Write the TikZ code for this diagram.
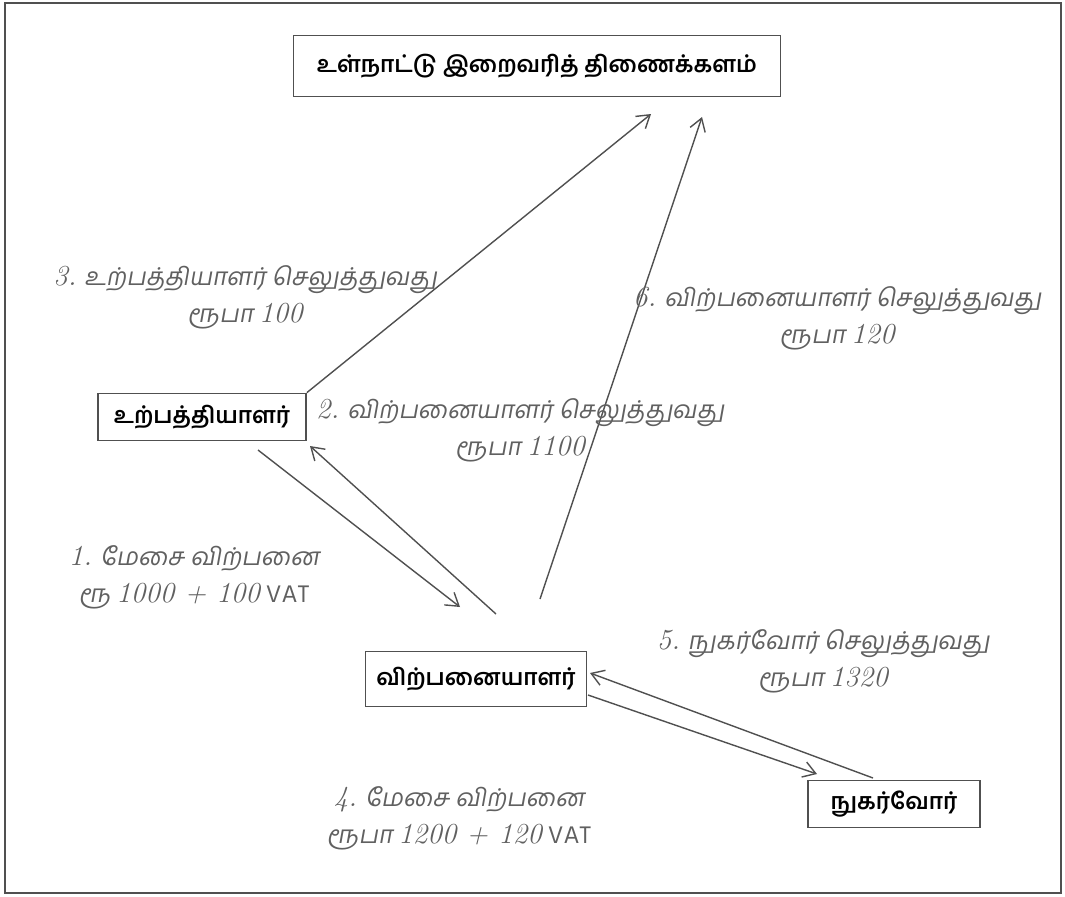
\documentclass[tikz,border=0pt]{standalone}
\usepackage{fontspec}
\usetikzlibrary{arrows.meta, positioning}
\newfontfamily\tamil[Script=Tamil]{Hind Madurai}
\newfontfamily\tamilsl[Script=Tamil,FakeSlant=0.18]{Hind Madurai}
\definecolor{inkgray}{HTML}{505050}
\definecolor{labgray}{HTML}{606060}
\newcommand{\nm}[1]{{\rmfamily\itshape\fontsize{16.5}{21}\selectfont #1}}

\begin{document}
\begin{tikzpicture}[x=0.02cm, y=-0.02cm,
  box/.style={draw=inkgray, line width=1pt, text=black,
    font=\tamil\bfseries\fontsize{13}{15}\selectfont},
  lab/.style={text=labgray, align=center,
    font=\tamilsl\fontsize{14}{21}\selectfont},
  flow/.style={draw=inkgray, line width=0.8pt,
    -{Straight Barb[length=7pt, width=9pt]}}]
  \useasboundingbox (0,0) rectangle (1065,896);
  \draw[inkgray, line width=1pt] (5,3) rectangle (1061,893);

  % boxes
  \node[box, minimum width=9.74cm, minimum height=1.22cm] (dept) at (537,66)
    {உள்நாட்டு இறைவரித் திணைக்களம்};
  \node[box, minimum width=4.16cm, minimum height=0.94cm] (prod) at (202,417)
    {உற்பத்தியாளர்};
  \node[box, minimum width=4.42cm, minimum height=1.1cm] (ret) at (476,679)
    {விற்பனையாளர்};
  \node[box, minimum width=3.44cm, minimum height=0.94cm] (cons) at (894,804)
    {நுகர்வோர்};

  % arrow ends
  \coordinate (e3) at (651,114);
  \coordinate (s6) at (540,599);
  \coordinate (e6) at (702,117);
  \coordinate (s1) at (258,450);
  \coordinate (e1) at (460,607);
  \coordinate (s2) at (496,614);
  \coordinate (e2) at (310,446);
  \coordinate (s4) at (588,695);
  \coordinate (e4) at (817,774);
  \coordinate (s5) at (873,778);
  \coordinate (e5) at (590,673);

  \draw[flow] (prod.north east) -- (e3);
  \draw[flow] (s6) -- (e6);
  \draw[flow] (s1) -- (e1);
  \draw[flow] (s2) -- (e2);
  \draw[flow] (s4) -- (e4);
  \draw[flow] (s5) -- (e5);

  % labels
  \node[lab] (l3) at (245,297) {\nm{3.} உற்பத்தியாளர் செலுத்துவது\\ரூபா \nm{100}};
  \node[lab] (l6) at (837,318) {\nm{6.} விற்பனையாளர் செலுத்துவது\\ரூபா \nm{120}};
  \node[lab] (l2) at (520,430) {\nm{2.} விற்பனையாளர் செலுத்துவது\\ரூபா \nm{1100}};
  \node[lab] (l1) at (194,577) {\nm{1.} மேசை விற்பனை\\ரூ \nm{1000 + 100} {\tamil VAT}};
  \node[lab] (l5) at (823,661) {\nm{5.} நுகர்வோர் செலுத்துவது\\ரூபா \nm{1320}};
  \node[lab] (l4) at (459,818) {\nm{4.} மேசை விற்பனை\\ரூபா \nm{1200 + 120} {\tamil VAT}};
\end{tikzpicture}
\end{document}
